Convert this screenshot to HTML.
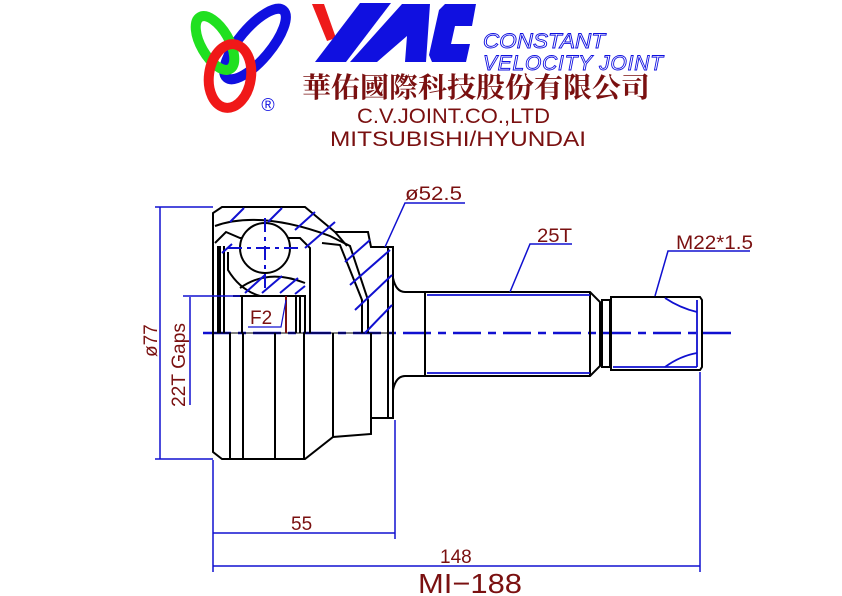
<!DOCTYPE html>
<html><head><meta charset="utf-8"><style>
html,body{margin:0;padding:0;background:#fff;}
svg{display:block;}
</style></head><body>
<svg width="842" height="596" viewBox="0 0 842 596" xmlns="http://www.w3.org/2000/svg">
<g fill="none" stroke-width="10">
<ellipse cx="255" cy="44" rx="16" ry="44" transform="rotate(40 255 44)" stroke="#1010e0"/>
<ellipse cx="215" cy="43" rx="14" ry="30" transform="rotate(-30 215 43)" stroke="#20e020"/>
<ellipse cx="230" cy="76" rx="21" ry="32" transform="rotate(8 230 76)" stroke="#f01818"/>
</g>
<text x="268" y="111" font-family="Liberation Sans, sans-serif" font-size="18" fill="#1010e0" text-anchor="middle">®</text>
<polygon points="312,4 324,4 336,38 327,41" fill="#ee1a1a"/>
<polygon points="360,3 391,3 346,62 315,62" fill="#1010e0"/>
<polygon points="402,4 430,4 426,62 405,62 407,36 377,62 350,62" fill="#1010e0"/>
<polygon points="445,4 476,4 472,26 455,26 451,44 470,44 466,62 432,62 429,55 439,10" fill="#1010e0"/>
<g font-family="Liberation Sans, sans-serif" font-size="21" font-style="italic" fill="#fff" stroke="#1010e0" stroke-width="0.9">
<text x="483" y="48" textLength="122" lengthAdjust="spacingAndGlyphs">CONSTANT</text>
<text x="483" y="70" textLength="180" lengthAdjust="spacing">VELOCITY  JOINT</text>
</g>
<text x="302" y="97" font-family="'Noto Serif CJK SC','Noto Sans CJK TC',serif" font-weight="bold" font-size="28" fill="#7a1010" textLength="348" lengthAdjust="spacingAndGlyphs">華佑國際科技股份有限公司</text>
<g font-family="Liberation Sans, sans-serif" font-size="21" fill="#7a1010">
<text x="357" y="123" textLength="193" lengthAdjust="spacingAndGlyphs">C.V.JOINT.CO.,LTD</text>
<text x="330" y="146" textLength="256" lengthAdjust="spacingAndGlyphs">MITSUBISHI/HYUNDAI</text>
</g>

<line x1="203" y1="333" x2="732" y2="333" stroke="#1010d0" stroke-width="2.5" stroke-dasharray="28,7,8,7"/>

<g fill="none" stroke="#000" stroke-width="2">
<path d="M213,333 L213,213 L222,207 L305,207 L335,232 L368,232 L371,247 L393,247 L393,418 L371,418 L371,434 L333,437 L305,459 L222,459 L213,452 Z"/>
<line x1="230" y1="333" x2="230" y2="459"/>
<line x1="243" y1="333" x2="243" y2="459"/>
<line x1="275" y1="333" x2="275" y2="459"/>
<line x1="304" y1="333" x2="304" y2="459"/>
<line x1="333" y1="333" x2="333" y2="437"/>
<line x1="371" y1="333" x2="371" y2="418"/>
<line x1="388" y1="247" x2="388" y2="418"/>
<line x1="213" y1="333" x2="393" y2="333" stroke-width="1"/>
<path d="M215,226 Q260,210 330,236 L350,246 L368,300 L368,333"/>
<path d="M335,232 L347,246"/>
<path d="M322,243 L340,245 L362,300 L362,333"/>
<path d="M215,243 L226,232 L240,238 L300,238 L310,248 L310,333"/>
<path d="M218,246 L218,333 M224,246 L224,333"/>
<path d="M228,252 L228,270 Q240,290 260,296 L305,296"/>
<path d="M240,288 Q268,268 305,283"/>
<path d="M233,296 L305,296 L305,333 M242,296 L242,333 M300,296 L300,333 M296,296 L296,333"/>
<circle cx="265" cy="248" r="25" fill="#fff"/>
</g>
<line x1="219" y1="246" x2="219" y2="333" stroke="#000" stroke-width="4"/>
<g stroke="#1010d0" stroke-width="2">
<line x1="230" y1="222" x2="244" y2="208"/>
<line x1="268" y1="222" x2="282" y2="208"/>
<line x1="295" y1="230" x2="315" y2="212"/>
<line x1="305" y1="248" x2="335" y2="222"/>
<line x1="345" y1="262" x2="370" y2="240"/>
<line x1="350" y1="285" x2="390" y2="250"/>
<line x1="355" y1="310" x2="392" y2="275"/>
<line x1="365" y1="333" x2="392" y2="305"/>
<line x1="222" y1="253" x2="232" y2="244"/>
<line x1="245" y1="293" x2="265" y2="275"/>
<line x1="262" y1="293" x2="282" y2="276"/>
<line x1="280" y1="293" x2="298" y2="278"/>
<line x1="295" y1="294" x2="305" y2="286"/>
<line x1="228" y1="248" x2="302" y2="248" stroke-dasharray="14,5,4,5"/>
<line x1="265" y1="218" x2="265" y2="290" stroke-dasharray="14,5,4,5"/>
</g>
<line x1="286" y1="296" x2="286" y2="333" stroke="#7a1010" stroke-width="2"/>
<path d="M248,327 L281,327 L286,300" fill="none" stroke="#1010d0" stroke-width="1.2"/>
<text x="250" y="324" font-family="Liberation Sans, sans-serif" font-size="19" fill="#7a1010">F2</text>

<g fill="none" stroke="#000" stroke-width="2">
<path d="M393,278 Q396,292 405,292 L425,292 L425,376 L405,376 Q396,376 393,390"/>
<path d="M421,292 L590,292 L600,302 L600,366 L590,376 L421,376"/>
<path d="M425,292 L425,376 M590,292 L590,376"/>
<path d="M602,300 L610,300 L610,367 L602,367 Z"/>
<path d="M611,297 L700,297 L702,300 L702,367 L700,370 L611,370 Z"/>
</g>
<g stroke="#1010d0" stroke-width="1.8" fill="none">
<line x1="427" y1="295" x2="590" y2="295"/>
<line x1="427" y1="373" x2="590" y2="373"/>
<line x1="613" y1="367" x2="697" y2="367"/>
<path d="M665,298 Q680,308 697,312"/>
<path d="M665,367 Q680,356 697,353"/>
<line x1="697" y1="300" x2="697" y2="367"/>
</g>

<g stroke="#1010d0" stroke-width="1.5" fill="none">
<line x1="160" y1="207" x2="160" y2="459"/>
<line x1="155" y1="207" x2="213" y2="207"/>
<line x1="155" y1="459" x2="213" y2="459"/>
<line x1="190" y1="297" x2="190" y2="405"/>
<line x1="183" y1="296" x2="240" y2="296"/>
<line x1="213" y1="460" x2="213" y2="572"/>
<line x1="395" y1="420" x2="395" y2="539"/>
<line x1="700" y1="372" x2="700" y2="572"/>
<line x1="213" y1="533" x2="395" y2="533"/>
<line x1="213" y1="566" x2="700" y2="566"/>
<path d="M465,203 L405,203 L385,247"/>
<path d="M572,244 L530,244 L510,292"/>
<path d="M750,251 L668,251 L655,296"/>
</g>
<g font-family="Liberation Sans, sans-serif" font-size="19" fill="#7a1010">
<text x="405" y="200" textLength="57" lengthAdjust="spacingAndGlyphs">ø52.5</text>
<text x="537" y="242" textLength="35" lengthAdjust="spacingAndGlyphs">25T</text>
<text x="676" y="249" textLength="77" lengthAdjust="spacingAndGlyphs">M22*1.5</text>
<text x="291" y="530">55</text>
<text x="440" y="563">148</text>
<text transform="translate(157,357) rotate(-90)">ø77</text>
<text transform="translate(185,407) rotate(-90)" textLength="84" lengthAdjust="spacingAndGlyphs">22T Gaps</text>
</g>
<text x="470" y="593" font-family="Liberation Sans, sans-serif" font-size="28" fill="#7a1010" text-anchor="middle" textLength="104" lengthAdjust="spacingAndGlyphs">MI−188</text>
</svg>
</body></html>
